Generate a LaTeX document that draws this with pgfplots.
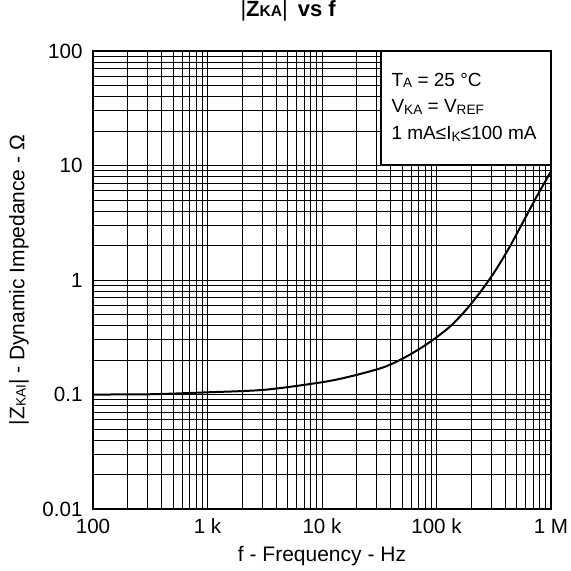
\documentclass[border=0pt]{standalone}
\usepackage{pgfplots}
\pgfplotsset{compat=1.18}
\usepackage{fontspec}
\setmainfont{Liberation Sans}

\newcommand{\sub}[1]{\raisebox{-0.12ex}{\fontsize{6.8}{7}\selectfont #1}}
\newcommand{\tsub}[1]{{\fontsize{7.8}{8}\selectfont #1}}

\begin{document}
\begin{tikzpicture}
\path[use as bounding box] (-46.5pt,-31pt) rectangle (239pt,254.5pt);
\begin{axis}[
  name=ax, anchor=south west, at={(0,0)},
  scale only axis, width=229pt, height=229pt,
  xmode=log, ymode=log,
  xmin=100, xmax=1e6, ymin=0.01, ymax=100,
  xtick={100,1000,10000,100000,1000000},
  xticklabels={100,1 k,10 k,100 k,1 M},
  ytick={0.01,0.1,1,10,100},
  yticklabels={0.01,0.1,1,10,100},
  minor xtick={200,300,400,500,600,700,800,900,
    2000,3000,4000,5000,6000,7000,8000,9000,
    20000,30000,40000,50000,60000,70000,80000,90000,
    200000,300000,400000,500000,600000,700000,800000,900000},
  minor ytick={0.02,0.03,0.04,0.05,0.06,0.07,0.08,0.09,
    0.2,0.3,0.4,0.5,0.6,0.7,0.8,0.9,
    2,3,4,5,6,7,8,9,
    20,30,40,50,60,70,80,90},
  grid=both,
  major grid style={black, line width=0.45pt},
  minor grid style={black, line width=0.45pt},
  major tick length=0pt, minor tick length=0pt,
  axis line style={black, line width=0.6pt},
  tick label style={font=\fontsize{10.3}{12}\selectfont},
  /pgf/number format/assume math mode=true,
  xticklabel style={yshift=-1.5pt},
  yticklabel style={xshift=-1.7pt},
  title={{\mdseries|}{\bfseries Z\tsub{KA}}{\mdseries|}\hspace{0.45em}{\bfseries vs f}},
  title style={at={(axis description cs:0.426,1)}, anchor=base, yshift=11.4pt, font=\fontsize{11}{13}\selectfont},
  xlabel={f - Frequency - Hz},
  xlabel style={at={(axis description cs:0.5,0)}, anchor=base, yshift=-26.2pt, font=\fontsize{10.5}{12}\selectfont},
  ylabel={|Z\sub{KAI}| - Dynamic Impedance - Ω},
  ylabel style={at={(axis description cs:-0.15,0.5)}, anchor=base, font=\fontsize{10.5}{12}\selectfont},
]
% curve
\addplot[black, line width=1pt, smooth] coordinates {
  (100,0.1) (316,0.1005) (1000,0.1045) (3162,0.110) (10000,0.128)
  (17783,0.144) (31623,0.168) (42170,0.188) (56234,0.218) (74989,0.259)
  (100000,0.316) (133352,0.398) (177828,0.537) (237137,0.767)
  (316228,1.15) (421697,1.84) (562341,3.13) (749894,5.35) (1000000,8.9)
};
\draw[black, line width=0.6pt, fill=white] (rel axis cs:0.629,0.751) rectangle (rel axis cs:1,1);
\node[anchor=base west, font=\fontsize{9.5}{11}\selectfont, inner sep=0pt] at (rel axis cs:0.651,0.922) {T\sub{A} = 25 °C};
\node[anchor=base west, font=\fontsize{9.5}{11}\selectfont, inner sep=0pt] at (rel axis cs:0.651,0.865) {V\sub{KA} = V\sub{REF}};
\node[anchor=base west, font=\fontsize{9.5}{11}\selectfont, inner sep=0pt] at (rel axis cs:0.651,0.806) {1 mA≤I\sub{K}≤100 mA};
\end{axis}
\end{tikzpicture}
\end{document}
